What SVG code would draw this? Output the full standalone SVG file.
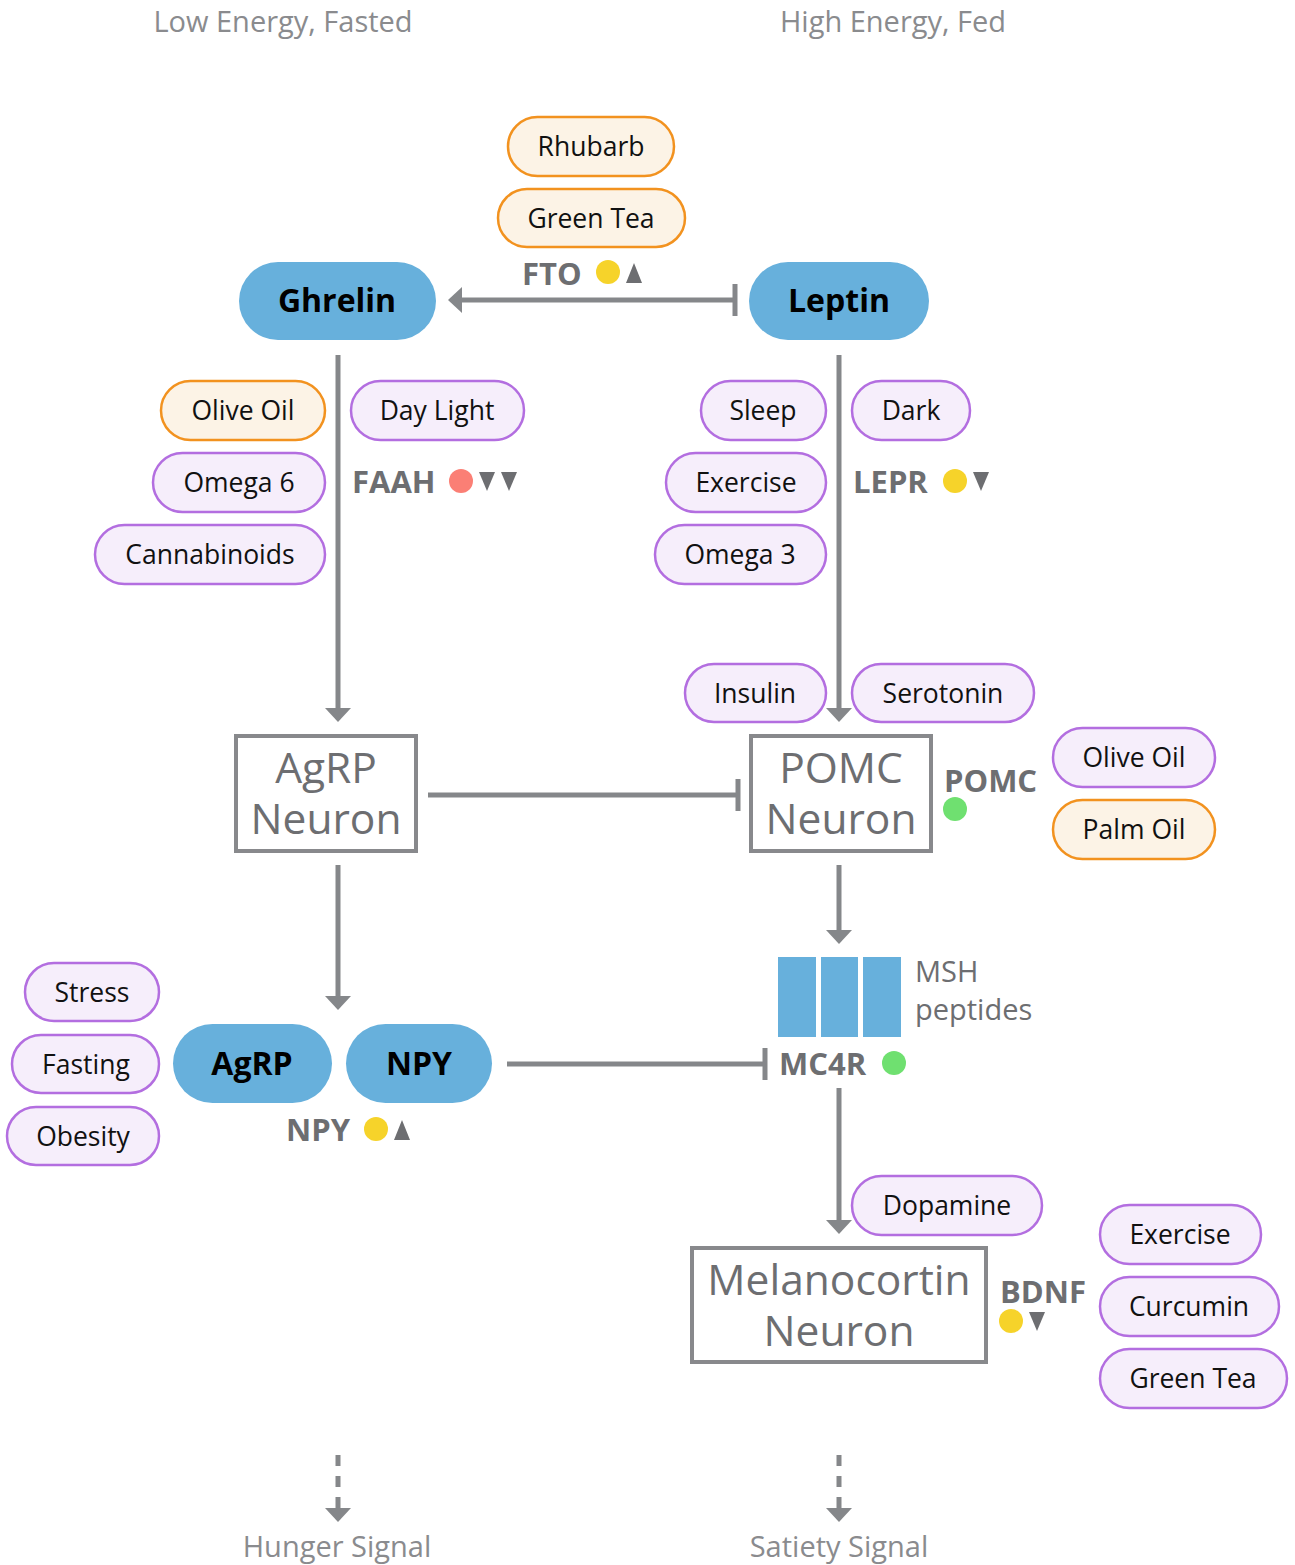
<svg xmlns="http://www.w3.org/2000/svg" width="1295" height="1565" viewBox="0 0 1295 1565">
  <defs>
    <style>
      text { font-family: "Open Sans", "Noto Sans", "Liberation Sans", sans-serif; }
      .title { font-size: 29px; fill: #8a8b8e; text-anchor: middle; }
      .pill-o { fill: #fcf3e6; stroke: #f2921f; stroke-width: 2.5; }
      .pill-p { fill: #f6eefb; stroke: #b36ee0; stroke-width: 2.5; }
      .pill-t { font-size: 26.5px; fill: #111; text-anchor: middle; }
      .hub { fill: #67b0dc; }
      .hub-t { font-size: 32px; font-weight: bold; fill: #000; text-anchor: middle; }
      .box { fill: #fff; stroke: #88898c; stroke-width: 4; }
      .box-t { font-size: 42.5px; fill: #6d6e71; text-anchor: middle; }
      .gene { font-size: 31px; font-weight: bold; fill: #6d6e71; }
      .tri { fill: #6d6e71; }
      .wire { stroke: #85878a; stroke-width: 5; fill: none; }
      .dash { stroke-dasharray: 11 10; }
      .yel { fill: #f6d32a; }
      .grn { fill: #6fe070; }
      .red { fill: #fb7f75; }
    </style>
    <marker id="arrow" markerUnits="userSpaceOnUse" viewBox="0 -13 14 26" refX="0" refY="0" markerWidth="14" markerHeight="26" orient="auto">
      <path d="M0,-13 L14,0 L0,13 Z" fill="#85878a"/>
    </marker>
    <marker id="bar" markerUnits="userSpaceOnUse" viewBox="-3 -16 6 32" refX="0" refY="0" markerWidth="6" markerHeight="32" orient="auto">
      <rect x="-2.5" y="-16" width="5" height="32" fill="#85878a"/>
    </marker>
  </defs>

  <rect width="1295" height="1565" fill="#fff"/>

  <!-- column headings -->
  <text class="title" x="283" y="32">Low Energy, Fasted</text>
  <text class="title" x="893" y="32">High Energy, Fed</text>

  <!-- connectors -->
  <g id="connectors">
    <line class="wire" x1="735" y1="300" x2="462" y2="300" marker-start="url(#bar)" marker-end="url(#arrow)"/>
    <line class="wire" x1="338" y1="355" x2="338" y2="708" marker-end="url(#arrow)"/>
    <line class="wire" x1="839" y1="355" x2="839" y2="708" marker-end="url(#arrow)"/>
    <line class="wire" x1="428" y1="795" x2="738" y2="795" marker-end="url(#bar)"/>
    <line class="wire" x1="338" y1="865" x2="338" y2="996" marker-end="url(#arrow)"/>
    <line class="wire" x1="839" y1="865" x2="839" y2="930" marker-end="url(#arrow)"/>
    <line class="wire" x1="507" y1="1064" x2="765" y2="1064" marker-end="url(#bar)"/>
    <line class="wire" x1="839" y1="1088" x2="839" y2="1220" marker-end="url(#arrow)"/>
    <line class="wire dash" x1="338" y1="1455" x2="338" y2="1508" marker-end="url(#arrow)"/>
    <line class="wire dash" x1="839" y1="1455" x2="839" y2="1508" marker-end="url(#arrow)"/>
  </g>

  <!-- FTO -->
  <g id="fto">
    <rect class="pill-o" x="508" y="117" width="166" height="59" rx="29.5"/>
    <text class="pill-t" x="591" y="156">Rhubarb</text>
    <rect class="pill-o" x="498" y="189" width="187" height="58" rx="29"/>
    <text class="pill-t" x="591" y="228">Green Tea</text>
    <text class="gene" x="522" y="285">FTO</text>
    <circle class="yel" cx="608" cy="272" r="12"/>
    <path class="tri" d="M626,283 L634,263 L642,283 Z"/>
  </g>

  <!-- Ghrelin -->
  <g id="ghrelin">
    <rect class="hub" x="239" y="262" width="197" height="78" rx="39"/>
    <text class="hub-t" x="337" y="312">Ghrelin</text>
  </g>

  <!-- Leptin -->
  <g id="leptin">
    <rect class="hub" x="749" y="262" width="180" height="78" rx="39"/>
    <text class="hub-t" x="839" y="312">Leptin</text>
  </g>

  <!-- FAAH modifiers -->
  <g id="faah">
    <rect class="pill-o" x="161" y="381" width="164" height="59" rx="29.5"/>
    <text class="pill-t" x="243" y="420">Olive Oil</text>
    <rect class="pill-p" x="351" y="381" width="173" height="59" rx="29.5"/>
    <text class="pill-t" x="437" y="420">Day Light</text>
    <rect class="pill-p" x="153" y="453" width="172" height="59" rx="29.5"/>
    <text class="pill-t" x="239" y="492">Omega 6</text>
    <rect class="pill-p" x="95" y="525" width="230" height="59" rx="29.5"/>
    <text class="pill-t" x="210" y="564">Cannabinoids</text>
    <text class="gene" x="352" y="493">FAAH</text>
    <circle class="red" cx="461" cy="481" r="12"/>
    <path class="tri" d="M479,472 L495,472 L487,491 Z"/>
    <path class="tri" d="M501,472 L517,472 L509,491 Z"/>
  </g>

  <!-- LEPR modifiers -->
  <g id="lepr">
    <rect class="pill-p" x="701" y="381" width="125" height="59" rx="29.5"/>
    <text class="pill-t" x="763" y="420">Sleep</text>
    <rect class="pill-p" x="852" y="381" width="118" height="59" rx="29.5"/>
    <text class="pill-t" x="911" y="420">Dark</text>
    <rect class="pill-p" x="666" y="453" width="160" height="59" rx="29.5"/>
    <text class="pill-t" x="746" y="492">Exercise</text>
    <rect class="pill-p" x="655" y="525" width="171" height="59" rx="29.5"/>
    <text class="pill-t" x="740" y="564">Omega 3</text>
    <text class="gene" x="853" y="493">LEPR</text>
    <circle class="yel" cx="955" cy="481" r="12"/>
    <path class="tri" d="M973,472 L989,472 L981,491 Z"/>
  </g>

  <!-- POMC inputs -->
  <g id="pomc-inputs">
    <rect class="pill-p" x="685" y="664" width="141" height="58" rx="29"/>
    <text class="pill-t" x="755" y="703">Insulin</text>
    <rect class="pill-p" x="852" y="664" width="182" height="58" rx="29"/>
    <text class="pill-t" x="943" y="703">Serotonin</text>
  </g>

  <!-- AgRP neuron -->
  <g id="agrp-neuron">
    <rect class="box" x="236" y="736" width="180" height="115"/>
    <text class="box-t" x="326" y="783">AgRP</text>
    <text class="box-t" x="326" y="834">Neuron</text>
  </g>

  <!-- POMC neuron -->
  <g id="pomc-neuron">
    <rect class="box" x="751" y="736" width="180" height="115"/>
    <text class="box-t" x="841" y="783">POMC</text>
    <text class="box-t" x="841" y="834">Neuron</text>
  </g>

  <!-- POMC gene -->
  <g id="pomc">
    <text class="gene" x="944" y="792">POMC</text>
    <circle class="grn" cx="955" cy="809" r="12"/>
    <rect class="pill-p" x="1053" y="728" width="162" height="59" rx="29.5"/>
    <text class="pill-t" x="1134" y="767">Olive Oil</text>
    <rect class="pill-o" x="1053" y="800" width="162" height="59" rx="29.5"/>
    <text class="pill-t" x="1134" y="839">Palm Oil</text>
  </g>

  <!-- MSH peptides -->
  <g id="msh">
    <rect class="hub" x="778" y="957" width="38" height="80"/>
    <rect class="hub" x="821" y="957" width="37" height="80"/>
    <rect class="hub" x="863" y="957" width="38" height="80"/>
    <text x="915" y="982" font-size="29" fill="#6d6e71">MSH</text>
    <text x="915" y="1020" font-size="29" fill="#6d6e71">peptides</text>
  </g>

  <!-- MC4R -->
  <g id="mc4r">
    <text class="gene" x="779" y="1075">MC4R</text>
    <circle class="grn" cx="894" cy="1063" r="12"/>
  </g>

  <!-- NPY stressors -->
  <g id="npy-inputs">
    <rect class="pill-p" x="25" y="963" width="134" height="58" rx="29"/>
    <text class="pill-t" x="92" y="1002">Stress</text>
    <rect class="pill-p" x="12" y="1035" width="147" height="58" rx="29"/>
    <text class="pill-t" x="86" y="1074">Fasting</text>
    <rect class="pill-p" x="7" y="1107" width="152" height="58" rx="29"/>
    <text class="pill-t" x="83" y="1146">Obesity</text>
  </g>

  <!-- AgRP / NPY peptides -->
  <g id="agrp">
    <rect class="hub" x="173" y="1024" width="159" height="79" rx="39.5"/>
    <text class="hub-t" x="252" y="1075">AgRP</text>
  </g>
  <g id="npy">
    <rect class="hub" x="346" y="1024" width="146" height="79" rx="39.5"/>
    <text class="hub-t" x="419" y="1075">NPY</text>
    <text class="gene" x="286" y="1141">NPY</text>
    <circle class="yel" cx="376" cy="1129" r="12"/>
    <path class="tri" d="M394,1140 L402,1120 L410,1140 Z"/>
  </g>

  <!-- Melanocortin neuron -->
  <g id="melanocortin-neuron">
    <rect class="pill-p" x="852" y="1176" width="190" height="59" rx="29.5"/>
    <text class="pill-t" x="947" y="1215">Dopamine</text>
    <rect class="box" x="692" y="1248" width="294" height="114"/>
    <text class="box-t" x="839" y="1295">Melanocortin</text>
    <text class="box-t" x="839" y="1346">Neuron</text>
  </g>

  <!-- BDNF -->
  <g id="bdnf">
    <text class="gene" x="1000" y="1303">BDNF</text>
    <circle class="yel" cx="1011" cy="1321" r="12"/>
    <path class="tri" d="M1029,1312 L1045,1312 L1037,1331 Z"/>
    <rect class="pill-p" x="1100" y="1205" width="161" height="59" rx="29.5"/>
    <text class="pill-t" x="1180" y="1244">Exercise</text>
    <rect class="pill-p" x="1100" y="1277" width="179" height="59" rx="29.5"/>
    <text class="pill-t" x="1189" y="1316">Curcumin</text>
    <rect class="pill-p" x="1100" y="1349" width="187" height="59" rx="29.5"/>
    <text class="pill-t" x="1193" y="1388">Green Tea</text>
  </g>

  <!-- outcome signals -->
  <g id="hunger">
    <text class="title" x="337" y="1557">Hunger Signal</text>
  </g>
  <g id="satiety">
    <text class="title" x="839" y="1557">Satiety Signal</text>
  </g>
</svg>
